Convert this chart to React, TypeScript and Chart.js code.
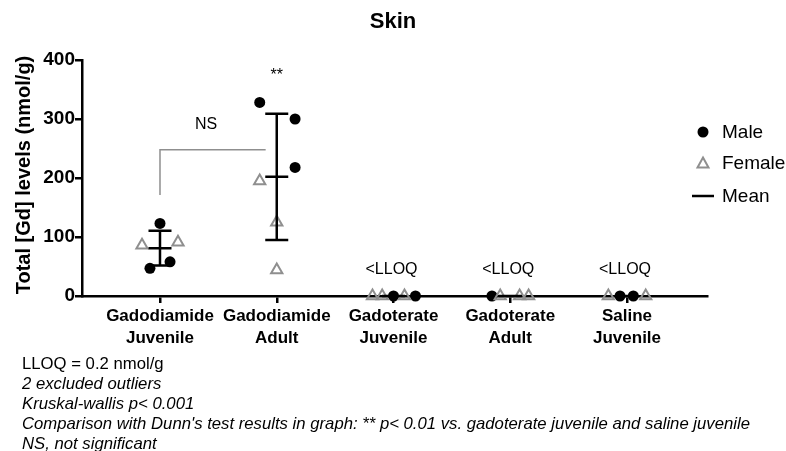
import React, { useEffect, useRef } from "react";
import { Chart, registerables } from "chart.js";

Chart.register(...registerables);

const chartTitle = "Skin";
const yAxisTitle = "Total [Gd] levels (nmol/g)";
const categories: string[][] = [
  ["Gadodiamide", "Juvenile"],
  ["Gadodiamide", "Adult"],
  ["Gadoterate", "Juvenile"],
  ["Gadoterate", "Adult"],
  ["Saline", "Juvenile"],
];
const yTicks = [0, 100, 200, 300, 400];

const maleValues: number[][] = [[123, 47, 58], [328, 300, 218], [0, 0], [0], [0, 0]];
const maleJitter: number[][] = [[0, -0.086, 0.086], [-0.146, 0.157, 0.157], [0, 0.188], [-0.157], [-0.06, 0.054]];
const femaleValues: number[][] = [[86, 91], [195, 125, 44], [0, 0, 0], [0, 0, 0], [0, 0]];
const femaleJitter: number[][] = [[-0.154, 0.154], [-0.146, 0, 0], [-0.18, -0.097, 0.094], [-0.086, 0.08, 0.157], [-0.16, 0.16]];
const groupMeans = [81, 202, 0, 0, 0];
const groupSD = [29.5, 107, 0, 0, 0];

const belowLimitGroups = [2, 3, 4];
const belowLimitLabel = "<LLOQ";
const belowLimitY = 44;
const sigLabel = "**";
const sigGroup = 1;
const sigY = 374;
const nsLabel = "NS";
const nsBracket = { from: 0, to: 0.905, low: 171, high: 248, labelX: 0.394, labelY: 290 };

const legendItems = ["Male", "Female", "Mean"];
const footnotes = [
  { text: "LLOQ = 0.2 nmol/g", italic: false },
  { text: "2 excluded outliers", italic: true },
  { text: "Kruskal-wallis p< 0.001", italic: true },
  { text: "Comparison with Dunn's test results in graph: ** p< 0.01 vs. gadoterate juvenile and saline juvenile", italic: true },
  { text: "NS, not significant", italic: true },
];

const FONT = '"Liberation Sans", Arial, Helvetica, sans-serif';
const GREY = "#8f8f8f";

const overlay = {
  id: "overlay",
  afterDatasetsDraw(chart: any) {
    const ctx = chart.ctx;
    const x = chart.scales.x;
    const y = chart.scales.y;
    ctx.save();
    ctx.strokeStyle = "#000";
    ctx.lineWidth = 2.5;
    const half = 11.5;
    groupMeans.forEach((m, i) => {
      const px = x.getPixelForValue(i);
      const top = y.getPixelForValue(m + groupSD[i]);
      const bot = y.getPixelForValue(m - groupSD[i]);
      const mid = y.getPixelForValue(m);
      ctx.beginPath();
      ctx.moveTo(px, top);
      ctx.lineTo(px, bot);
      [top, mid, bot].forEach((yy) => {
        ctx.moveTo(px - half, yy);
        ctx.lineTo(px + half, yy);
      });
      ctx.stroke();
    });
    ctx.strokeStyle = GREY;
    ctx.lineWidth = 1.5;
    ctx.beginPath();
    ctx.moveTo(x.getPixelForValue(nsBracket.from), y.getPixelForValue(nsBracket.low));
    ctx.lineTo(x.getPixelForValue(nsBracket.from), y.getPixelForValue(nsBracket.high));
    ctx.lineTo(x.getPixelForValue(nsBracket.to), y.getPixelForValue(nsBracket.high));
    ctx.stroke();
    ctx.fillStyle = "#000";
    ctx.textAlign = "center";
    ctx.textBaseline = "middle";
    ctx.font = `16px ${FONT}`;
    ctx.fillText(nsLabel, x.getPixelForValue(nsBracket.labelX), y.getPixelForValue(nsBracket.labelY));
    ctx.fillText(sigLabel, x.getPixelForValue(sigGroup), y.getPixelForValue(sigY));
    belowLimitGroups.forEach((g) => {
      ctx.fillText(belowLimitLabel, x.getPixelForValue(g) - 2, y.getPixelForValue(belowLimitY));
    });
    ctx.restore();
  },
  afterDraw(chart: any) {
    const ctx = chart.ctx;
    ctx.save();
    ctx.fillStyle = "#000";
    ctx.textAlign = "center";
    ctx.textBaseline = "middle";
    ctx.font = `bold 22px ${FONT}`;
    ctx.fillText(chartTitle, 393, 22);
    ctx.save();
    ctx.translate(24, 175);
    ctx.rotate(-Math.PI / 2);
    ctx.font = `bold 20px ${FONT}`;
    ctx.fillText(yAxisTitle, 0, 0);
    ctx.restore();
    // legend
    const lx = 703;
    const ys = [132, 163, 196];
    ctx.beginPath();
    ctx.arc(lx, ys[0], 5.5, 0, Math.PI * 2);
    ctx.fill();
    ctx.strokeStyle = GREY;
    ctx.lineWidth = 2;
    ctx.beginPath();
    ctx.moveTo(lx, ys[1] - 5.5);
    ctx.lineTo(lx + 5.5, ys[1] + 4.5);
    ctx.lineTo(lx - 5.5, ys[1] + 4.5);
    ctx.closePath();
    ctx.stroke();
    ctx.strokeStyle = "#000";
    ctx.lineWidth = 2.5;
    ctx.beginPath();
    ctx.moveTo(692, ys[2]);
    ctx.lineTo(714, ys[2]);
    ctx.stroke();
    ctx.textAlign = "left";
    ctx.font = `19px ${FONT}`;
    legendItems.forEach((t, i) => ctx.fillText(t, 722, ys[i] + 1));
    // footnotes (narrowed)
    ctx.font = `italic 17px ${FONT}`;
    const longest = Math.max(...footnotes.map((f) => ctx.measureText(f.text).width));
    const sx = 728 / longest;
    ctx.textBaseline = "middle";
    footnotes.forEach((f, i) => {
      ctx.save();
      ctx.font = `${f.italic ? "italic " : ""}17px ${FONT}`;
      ctx.translate(22, 364 + i * 20);
      ctx.scale(sx, 1);
      ctx.fillText(f.text, 0, 0);
      ctx.restore();
    });
    ctx.restore();
  },
};

export default function App() {
  const ref = useRef<HTMLCanvasElement>(null);
  useEffect(() => {
    if (!ref.current) return;
    const maleData: any[] = [];
    maleValues.forEach((vals, g) => vals.forEach((v, k) => maleData.push({ x: g + maleJitter[g][k], y: v })));
    const femaleData: any[] = [];
    femaleValues.forEach((vals, g) => vals.forEach((v, k) => femaleData.push({ x: g + femaleJitter[g][k], y: v })));
    const chart = new Chart(ref.current, {
      type: "scatter",
      data: {
        datasets: [
          {
            label: "Female",
            data: femaleData,
            pointStyle: "triangle",
            pointRadius: 6.5,
            borderColor: GREY,
            backgroundColor: "rgba(255,255,255,0)",
            pointBorderWidth: 2,
            clip: false as any,
          },
          {
            label: "Male",
            data: maleData,
            pointStyle: "circle",
            pointRadius: 5.5,
            borderColor: "#000",
            backgroundColor: "#000",
            pointBorderWidth: 0,
            clip: false as any,
          },
        ],
      },
      options: {
        responsive: false,
        animation: false,
        layout: { padding: { top: 60, left: 0, right: 79, bottom: 0 } },
        plugins: { legend: { display: false }, tooltip: { enabled: false }, title: { display: false } },
        scales: {
          x: {
            type: "linear",
            min: -0.668,
            max: 4.685,
            afterFit: (s: any) => { s.height = 155; },
            afterBuildTicks: (s: any) => { s.ticks = categories.map((_, i) => ({ value: i })); },
            grid: { drawOnChartArea: false, drawTicks: true, tickLength: 7, color: "#000", lineWidth: 2.5 },
            border: { display: true, color: "#000", width: 2.5 },
            ticks: {
              autoSkip: false,
              maxRotation: 0,
              padding: 3,
              color: "#000",
              font: { family: FONT, size: 17, weight: "bold", lineHeight: 1.25 },
              callback: (_v: any, i: number) => categories[i],
            },
          },
          y: {
            min: 0,
            max: 400,
            afterFit: (s: any) => { s.width = 82; },
            afterBuildTicks: (s: any) => { s.ticks = yTicks.map((v) => ({ value: v })); },
            grid: { drawOnChartArea: false, drawTicks: true, tickLength: 7, color: "#000", lineWidth: 2.5 },
            border: { display: true, color: "#000", width: 2.5 },
            ticks: {
              padding: 0,
              color: "#000",
              font: { family: FONT, size: 19, weight: "bold" },
            },
          },
        },
      },
      plugins: [overlay],
    });
    return () => chart.destroy();
  }, []);

  return (
    <div style={{ position: "absolute", left: 0, top: 0, width: 786, height: 451, background: "#fff" }}>
      <canvas ref={ref} width={786} height={451} style={{ position: "absolute", left: 0, top: 0 }} />
    </div>
  );
}
